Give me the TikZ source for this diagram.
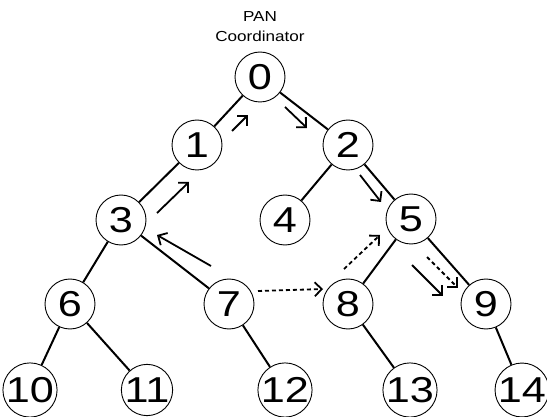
\documentclass[tikz,border=0pt]{standalone}
\usepackage{fontspec}
\setmainfont[FakeStretch=1.18]{Liberation Sans}
\newfontfamily\digitfont[FakeStretch=1.2]{Liberation Sans}
\usetikzlibrary{arrows.meta}
\begin{document}
\begin{tikzpicture}[x=1pt,y=-1pt,
  dev/.style={circle,draw,line width=0.9pt,minimum size=50pt,inner sep=0pt,font=\digitfont\fontsize{36}{36}\selectfont},
  link/.style={line width=2pt},
  flow/.style={line width=1.8pt,-{Straight Barb[length=7pt,width=14pt,line width=1.8pt]}},
  dflow/.style={flow,dash pattern=on 4pt off 3pt}]
\useasboundingbox (0,0) rectangle (547,417);
% devices of the cluster tree
\node[dev] (n0) at (260,77) {0};
\node[dev] (n1) at (197,145) {1};
\node[dev] (n2) at (348,145) {2};
\node[dev] (n3) at (121,220) {3};
\node[dev] (n4) at (285,220) {4};
\node[dev] (n5) at (411,219) {5};
\node[dev] (n6) at (70,304) {6};
\node[dev] (n7) at (229,304) {7};
\node[dev] (n8) at (348,304) {8};
\node[dev] (n9) at (486,304) {9};
\node[dev] (n10) at (30,390) {10};
\node[dev] (n11) at (147,390) {11};
\node[dev] (n12) at (285,390) {12};
\node[dev] (n13) at (410,390) {13};
\node[dev] (n14) at (522,390) {14};
\node[font=\fontsize{14.5}{20}\selectfont,align=center] (pan) at (260,27) {PAN\\Coordinator};
% parent-child links
\foreach \a/\b in {n0/n1,n0/n2,n1/n3,n2/n4,n2/n5,n3/n6,n3/n7,n5/n8,n5/n9,n6/n10,n6/n11,n7/n12,n8/n13,n9/n14}
  \draw[link] (\a) -- (\b);
% message paths
\coordinate (a1s) at (157,213); \coordinate (a1e) at (189,182);
\coordinate (a2s) at (232,131); \coordinate (a2e) at (248,115);
\coordinate (a3s) at (285,107); \coordinate (a3e) at (307,128);
\coordinate (a4s) at (360,175); \coordinate (a4e) at (381,202);
\coordinate (a5s) at (211,266); \coordinate (a5e) at (157,235);
\coordinate (a6s) at (412,265); \coordinate (a6e) at (443,296);
\coordinate (b1s) at (258,291); \coordinate (b1e) at (323,289);
\coordinate (b2s) at (344,269); \coordinate (b2e) at (380,235);
\coordinate (b3s) at (427,257); \coordinate (b3e) at (458,288);
\draw[flow] (a1s) -- (a1e);
\draw[flow] (a2s) -- (a2e);
\draw[flow] (a3s) -- (a3e);
\draw[flow] (a4s) -- (a4e);
\draw[flow] (a5s) -- (a5e);
\draw[flow] (a6s) -- (a6e);
\draw[dflow] (b1s) -- (b1e);
\draw[dflow] (b2s) -- (b2e);
\draw[dflow] (b3s) -- (b3e);
\end{tikzpicture}
\end{document}
